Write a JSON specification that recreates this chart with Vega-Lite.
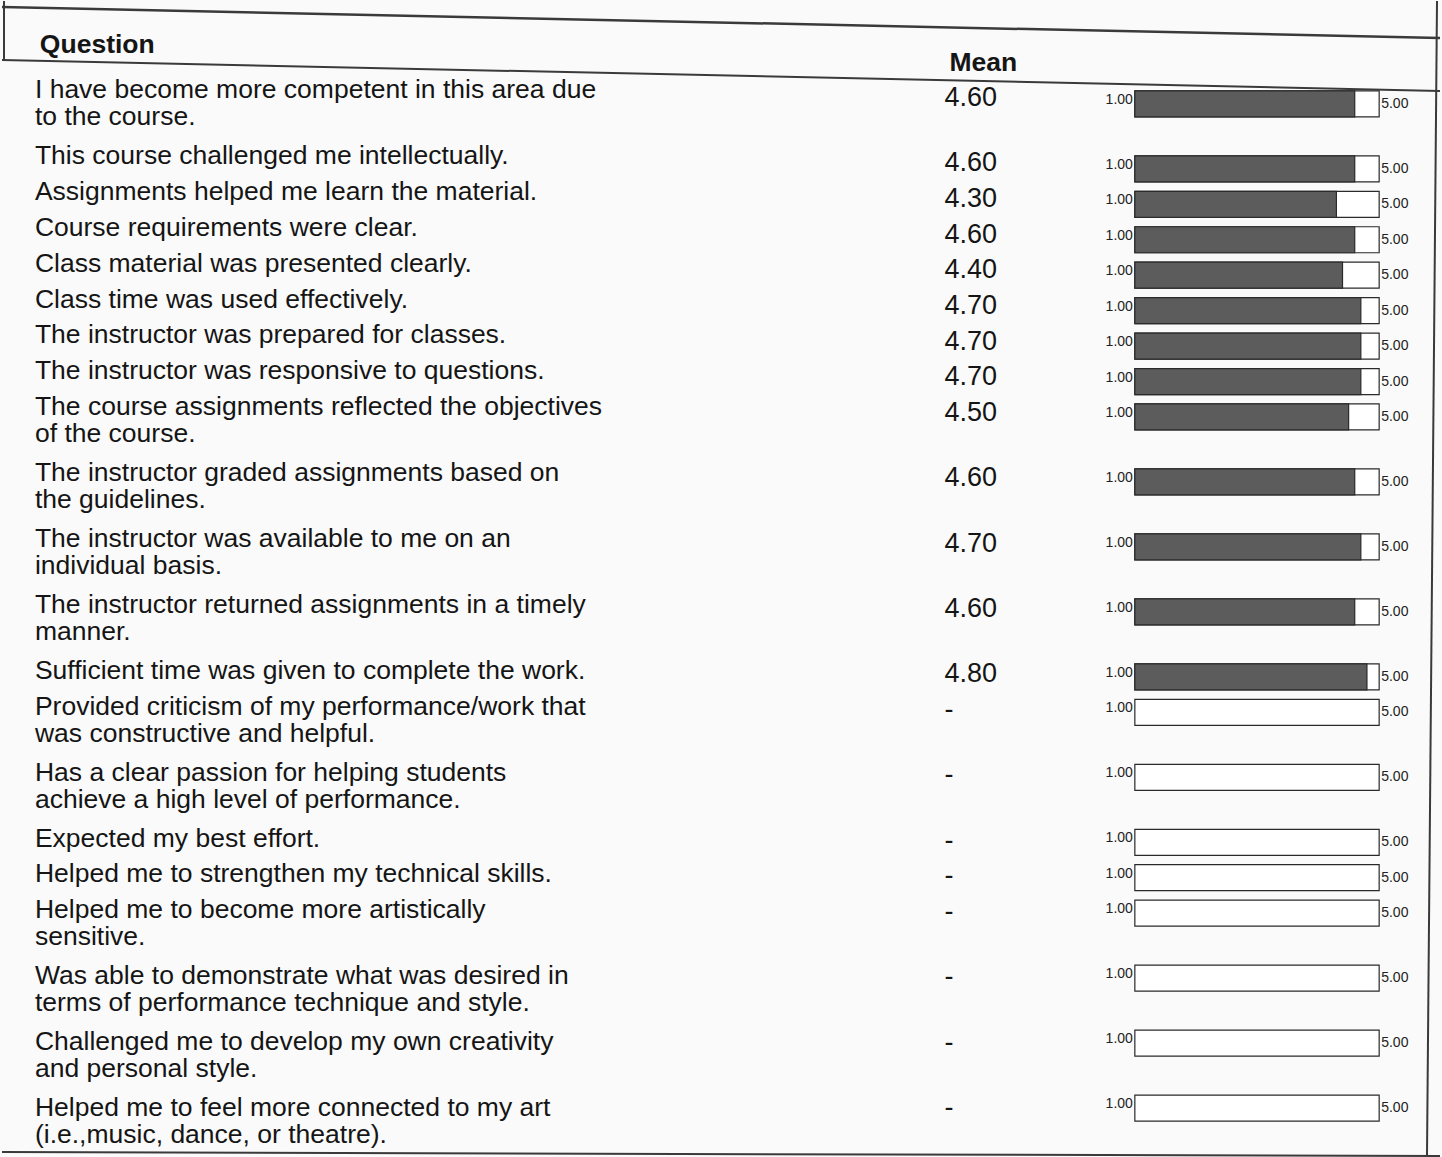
{
  "$schema": "https://vega.github.io/schema/vega-lite/v6.json",
  "width": 1442,
  "height": 1157,
  "autosize": {"type": "fit", "contains": "padding"},
  "padding": 0,
  "background": "#fafafa",
  "config": {"view": {"stroke": null}, "font": "Liberation Sans"},
  "data": {
    "values": [
      {"row": 1, "q": "I have become more competent in this area due\nto the course.", "mean": 4.6, "lo": 1, "hi": 5},
      {"row": 2, "q": "This course challenged me intellectually.", "mean": 4.6, "lo": 1, "hi": 5},
      {"row": 3, "q": "Assignments helped me learn the material.", "mean": 4.3, "lo": 1, "hi": 5},
      {"row": 4, "q": "Course requirements were clear.", "mean": 4.6, "lo": 1, "hi": 5},
      {"row": 5, "q": "Class material was presented clearly.", "mean": 4.4, "lo": 1, "hi": 5},
      {"row": 6, "q": "Class time was used effectively.", "mean": 4.7, "lo": 1, "hi": 5},
      {"row": 7, "q": "The instructor was prepared for classes.", "mean": 4.7, "lo": 1, "hi": 5},
      {"row": 8, "q": "The instructor was responsive to questions.", "mean": 4.7, "lo": 1, "hi": 5},
      {"row": 9, "q": "The course assignments reflected the objectives\nof the course.", "mean": 4.5, "lo": 1, "hi": 5},
      {"row": 10, "q": "The instructor graded assignments based on\nthe guidelines.", "mean": 4.6, "lo": 1, "hi": 5},
      {"row": 11, "q": "The instructor was available to me on an\nindividual basis.", "mean": 4.7, "lo": 1, "hi": 5},
      {"row": 12, "q": "The instructor returned assignments in a timely\nmanner.", "mean": 4.6, "lo": 1, "hi": 5},
      {"row": 13, "q": "Sufficient time was given to complete the work.", "mean": 4.8, "lo": 1, "hi": 5},
      {"row": 14, "q": "Provided criticism of my performance/work that\nwas constructive and helpful.", "mean": null, "lo": 1, "hi": 5},
      {"row": 15, "q": "Has a clear passion for helping students\nachieve a high level of performance.", "mean": null, "lo": 1, "hi": 5},
      {"row": 16, "q": "Expected my best effort.", "mean": null, "lo": 1, "hi": 5},
      {"row": 17, "q": "Helped me to strengthen my technical skills.", "mean": null, "lo": 1, "hi": 5},
      {"row": 18, "q": "Helped me to become more artistically\nsensitive.", "mean": null, "lo": 1, "hi": 5},
      {"row": 19, "q": "Was able to demonstrate what was desired in\nterms of performance technique and style.", "mean": null, "lo": 1, "hi": 5},
      {"row": 20, "q": "Challenged me to develop my own creativity\nand personal style.", "mean": null, "lo": 1, "hi": 5},
      {"row": 21, "q": "Helped me to feel more connected to my art\n(i.e.,music, dance, or theatre).", "mean": null, "lo": 1, "hi": 5}
    ]
  },
  "transform": [
    {"calculate": "indexof(datum.q, '\\n') >= 0 ? 2 : 1", "as": "lines"},
    {"calculate": "datum.lines + 0.2", "as": "h"},
    {"window": [{"op": "sum", "field": "h", "as": "cum"}], "sort": [{"field": "row"}], "frame": [null, 0]},
    {"calculate": "datum.cum - datum.h + 0.6", "as": "c"},
    {"calculate": "datum.mean == null ? '-' : format(datum.mean, '.2f')", "as": "meanLabel"}
  ],
  "resolve": {"scale": {"y": "independent"}},
  "layer": [
    {
      "mark": {"type": "bar", "orient": "horizontal", "size": 26, "fill": "#ffffff", "stroke": "#2a2a2a", "strokeWidth": 1.2},
      "encoding": {
        "y": {"field": "c", "type": "quantitative", "scale": {"domain": [-2.884, 36.256], "reverse": true, "nice": false, "zero": false, "padding": 0}, "axis": null},
        "x": {"field": "lo", "type": "quantitative", "scale": {"domain": [-17.547, 5.996], "nice": false, "zero": false, "padding": 0}, "axis": null},
        "x2": {"field": "hi"}
      }
    },
    {
      "transform": [{"filter": "datum.mean != null"}],
      "mark": {"type": "bar", "orient": "horizontal", "size": 26, "fill": "#5c5c5c", "stroke": "#2a2a2a", "strokeWidth": 1.2},
      "encoding": {
        "y": {"field": "c", "type": "quantitative", "scale": {"domain": [-2.884, 36.256], "reverse": true, "nice": false, "zero": false, "padding": 0}, "axis": null},
        "x": {"field": "lo", "type": "quantitative"},
        "x2": {"field": "mean"}
      }
    },
    {
      "mark": {"type": "text", "align": "right", "baseline": "middle", "dx": -2, "dy": -4, "fontSize": 14, "color": "#222"},
      "encoding": {
        "y": {"field": "c", "type": "quantitative", "scale": {"domain": [-2.884, 36.256], "reverse": true, "nice": false, "zero": false}, "axis": null},
        "x": {"field": "lo", "type": "quantitative"},
        "text": {"field": "lo", "format": ".2f"}
      }
    },
    {
      "mark": {"type": "text", "align": "left", "baseline": "middle", "dx": 2, "dy": 0, "fontSize": 14, "color": "#222"},
      "encoding": {
        "y": {"field": "c", "type": "quantitative", "scale": {"domain": [-2.884, 36.256], "reverse": true, "nice": false, "zero": false}, "axis": null},
        "x": {"field": "hi", "type": "quantitative"},
        "text": {"field": "hi", "format": ".2f"}
      }
    },
    {
      "data": {"values": [{"label": "Question"}]},
      "mark": {"type": "text", "align": "left", "baseline": "middle", "fontSize": 26.5, "fontWeight": "bold", "color": "#151515"},
      "encoding": {
        "x": {"datum": -16.927, "type": "quantitative"},
        "y": {"datum": -1.395, "type": "quantitative", "scale": {"domain": [-2.884, 36.256], "reverse": true, "nice": false, "zero": false}, "axis": null},
        "text": {"field": "label"}
      }
    },
    {
      "data": {"values": [{"label": "Mean"}]},
      "mark": {"type": "text", "align": "left", "baseline": "middle", "fontSize": 26.5, "fontWeight": "bold", "color": "#151515"},
      "encoding": {
        "x": {"datum": -2.036, "type": "quantitative"},
        "y": {"datum": -0.787, "type": "quantitative", "scale": {"domain": [-2.884, 36.256], "reverse": true, "nice": false, "zero": false}, "axis": null},
        "text": {"field": "label"}
      }
    },
    {
      "mark": {"type": "text", "align": "left", "baseline": "alphabetic", "dy": 9, "fontSize": 26.5, "lineBreak": "\n", "lineHeight": 27, "color": "#151515"},
      "encoding": {
        "y": {"field": "c", "type": "quantitative", "scale": {"domain": [-2.336, 36.269], "reverse": true, "nice": false, "zero": false}, "axis": null},
        "x": {"datum": -17.008, "type": "quantitative"},
        "text": {"field": "q"}
      }
    },
    {
      "mark": {"type": "text", "align": "left", "baseline": "middle", "fontSize": 27, "color": "#151515"},
      "encoding": {
        "y": {"field": "c", "type": "quantitative", "scale": {"domain": [-2.662, 36.242], "reverse": true, "nice": false, "zero": false}, "axis": null},
        "x": {"datum": -2.118, "type": "quantitative"},
        "text": {"field": "meanLabel"}
      }
    },
    {
      "data": {"values": [{"line": "top"}]},
      "mark": {"type": "rule", "stroke": "#3a3a3a", "strokeWidth": 2.5},
      "encoding": {
        "x": {"datum": -17.547, "type": "quantitative"},
        "x2": {"datum": 5.996},
        "y": {"datum": -2.681, "type": "quantitative", "scale": {"domain": [-2.884, 36.256], "reverse": true, "nice": false, "zero": false}, "axis": null},
        "y2": {"datum": -1.632}
      }
    },
    {
      "data": {"values": [{"line": "header"}]},
      "mark": {"type": "rule", "stroke": "#3a3a3a", "strokeWidth": 2},
      "encoding": {
        "x": {"datum": -17.547, "type": "quantitative"},
        "x2": {"datum": 5.996},
        "y": {"datum": -0.888, "type": "quantitative", "scale": {"domain": [-2.884, 36.256], "reverse": true, "nice": false, "zero": false}, "axis": null},
        "y2": {"datum": 0.161}
      }
    },
    {
      "data": {"values": [{"line": "bottom"}]},
      "mark": {"type": "rule", "stroke": "#3a3a3a", "strokeWidth": 2},
      "encoding": {
        "x": {"datum": -17.547, "type": "quantitative"},
        "x2": {"datum": 5.996},
        "y": {"datum": 36.088, "type": "quantitative", "scale": {"domain": [-2.884, 36.256], "reverse": true, "nice": false, "zero": false}, "axis": null},
        "y2": {"datum": 36.222}
      }
    },
    {
      "data": {"values": [{"line": "left"}]},
      "mark": {"type": "rule", "stroke": "#3a3a3a", "strokeWidth": 2},
      "encoding": {
        "x": {"datum": -17.514, "type": "quantitative"},
        "x2": {"datum": -17.514},
        "y": {"datum": -2.884, "type": "quantitative", "scale": {"domain": [-2.884, 36.256], "reverse": true, "nice": false, "zero": false}, "axis": null},
        "y2": {"datum": -0.888}
      }
    },
    {
      "data": {"values": [{"line": "right"}]},
      "mark": {"type": "rule", "stroke": "#3a3a3a", "strokeWidth": 2},
      "encoding": {
        "x": {"datum": 5.947, "type": "quantitative"},
        "x2": {"datum": 5.783},
        "y": {"datum": -2.884, "type": "quantitative", "scale": {"domain": [-2.884, 36.256], "reverse": true, "nice": false, "zero": false}, "axis": null},
        "y2": {"datum": 36.222}
      }
    }
  ]
}
